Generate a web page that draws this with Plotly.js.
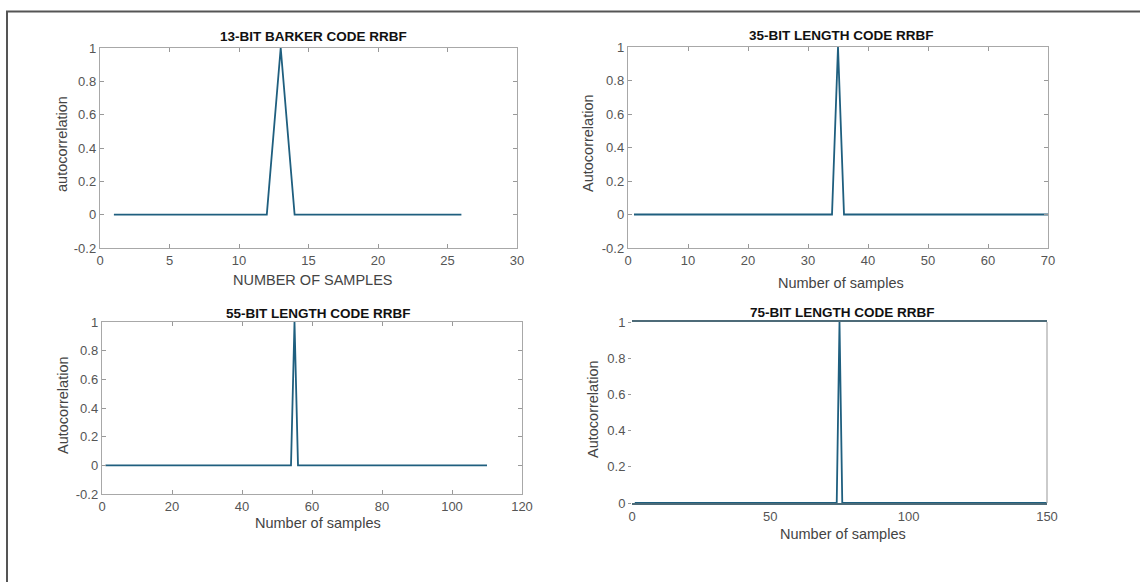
<!DOCTYPE html>
<html>
<head>
<meta charset="utf-8">
<script src="https://cdn.plot.ly/plotly-3.0.1.min.js"></script>
<style>
html,body{margin:0;padding:0;background:#fff;}
#chart{width:1140px;height:582px;}
</style>
</head>
<body>
<div id="chart"></div>
<script>
// ---- data (breakpoints of each autocorrelation trace) ----
const samples13 = [1, 12, 13, 14, 26];
const acf13     = [0, 0, 1, 0, 0];
const samples35 = [1, 34, 35, 36, 70];
const acf35     = [0, 0, 1, 0, 0];
const samples55 = [1, 54, 55, 56, 110];
const acf55     = [0, 0, 1, 0, 0];
const samples75 = [1, 74, 75, 76, 150];
const acf75     = [0, 0, 1, 0, 0];

const titles = ["13-BIT BARKER CODE RRBF", "35-BIT LENGTH CODE RRBF", "55-BIT LENGTH CODE RRBF", "75-BIT LENGTH CODE RRBF"];
const xLabels = ["NUMBER OF SAMPLES", "Number of samples", "Number of samples", "Number of samples"];
const yLabels = ["autocorrelation", "Autocorrelation", "Autocorrelation", "Autocorrelation"];

const xTicks1 = [0, 5, 10, 15, 20, 25, 30];
const xTicks2 = [0, 10, 20, 30, 40, 50, 60, 70];
const xTicks3 = [0, 20, 40, 60, 80, 100, 120];
const xTicks4 = [0, 50, 100, 150];
const yTicksA = [-0.2, 0, 0.2, 0.4, 0.6, 0.8, 1];
const yTickTextA = ["-0.2", "0", "0.2", "0.4", "0.6", "0.8", "1"];
const yTicksB = [0, 0.2, 0.4, 0.6, 0.8, 1];
const yTickTextB = ["0", "0.2", "0.4", "0.6", "0.8", "1"];

// ---- layout helpers ----
const W = 1140, H = 582;
const px = x => x / W;
const py = y => 1 - y / H;
const lineColor = '#1f5f7f';
const FONT = 'Liberation Sans, Arial, sans-serif';

// axes boxes in pixels [left, right, top, bottom]
const boxes = [
  [100, 517, 48, 248],
  [628, 1048, 47, 248],
  [102, 522, 322, 494],
  [632, 1047, 322, 503]
];

function trace(x, y, i) {
  const s = i === 0 ? '' : String(i + 1);
  return {x: x, y: y, type: 'scatter', mode: 'lines', xaxis: 'x' + s, yaxis: 'y' + s,
          line: {color: lineColor, width: 1.8}, hoverinfo: 'skip', showlegend: false};
}

const data = [
  trace(samples13, acf13, 0),
  trace(samples35, acf35, 1),
  trace(samples55, acf55, 2),
  trace(samples75, acf75, 3)
];

function xax(i, ticks, range) {
  const b = boxes[i];
  return {domain: [px(b[0]), px(b[1])], range: range, anchor: 'y' + (i === 0 ? '' : i + 1),
    tickvals: ticks, ticktext: ticks.map(String), ticks: 'inside', ticklen: 4, tickcolor: '#999',
    showline: true, linecolor: '#a8a8a8', linewidth: 1.2, mirror: 'ticks', showgrid: false, zeroline: false,
    tickfont: {family: FONT, size: 13, color: '#555'}, fixedrange: true};
}
function yax(i, ticks, text, range) {
  const b = boxes[i];
  return {domain: [py(b[3]), py(b[2])], range: range, anchor: 'x' + (i === 0 ? '' : i + 1),
    tickvals: ticks, ticktext: text, ticks: 'inside', ticklen: 4, tickcolor: '#999',
    showline: true, linecolor: '#a8a8a8', linewidth: 1.2, mirror: 'ticks', showgrid: false, zeroline: false,
    tickfont: {family: FONT, size: 13, color: '#555'}, fixedrange: true};
}

const layout = {
  width: W, height: H,
  margin: {l: 0, r: 0, t: 0, b: 0},
  paper_bgcolor: '#fff', plot_bgcolor: '#fff',
  showlegend: false,
  xaxis: xax(0, xTicks1, [0, 30]),
  yaxis: yax(0, yTicksA, yTickTextA, [-0.2, 1]),
  xaxis2: xax(1, xTicks2, [0, 70]),
  yaxis2: yax(1, yTicksA, yTickTextA, [-0.2, 1]),
  xaxis3: xax(2, xTicks3, [0, 120]),
  yaxis3: yax(2, yTicksA, yTickTextA, [-0.2, 1]),
  xaxis4: Object.assign(xax(3, xTicks4, [0, 150]), {linecolor: '#4d6b78', linewidth: 2, mirror: true, ticks: ''}),
  yaxis4: Object.assign(yax(3, yTicksB, yTickTextB, [0, 1]), {showline: false, mirror: false, ticks: 'outside', ticklen: 3}),
  shapes: [
    {type: 'rect', xref: 'paper', yref: 'paper', x0: px(7), x1: 1.05, y0: -0.05, y1: py(11.5),
     line: {color: '#555', width: 2}},
    {type: 'line', xref: 'x4 domain', yref: 'y4 domain', x0: 1, x1: 1, y0: 0, y1: 1,
     line: {color: '#a8a8a8', width: 1.2}}
  ],
  annotations: []
};

// titles and axis labels
const titlePos = [[313, 36], [841, 35], [318, 313], [842, 312]];
const xLabPos = [[313, 280], [841, 283], [318, 523], [843, 534]];
const yLabPos = [[62, 144], [588, 143], [63, 405], [593, 409]];
for (let i = 0; i < 4; i++) {
  layout.annotations.push({text: '<b>' + titles[i] + '</b>', xref: 'paper', yref: 'paper',
    x: px(titlePos[i][0]), y: py(titlePos[i][1]), xanchor: 'center', yanchor: 'middle', showarrow: false,
    font: {family: FONT, size: 13.5, color: '#111'}});
  layout.annotations.push({text: xLabels[i], xref: 'paper', yref: 'paper',
    x: px(xLabPos[i][0]), y: py(xLabPos[i][1]), xanchor: 'center', yanchor: 'middle', showarrow: false,
    font: {family: FONT, size: 14.5, color: '#444'}});
  layout.annotations.push({text: yLabels[i], xref: 'paper', yref: 'paper', textangle: -90,
    x: px(yLabPos[i][0]), y: py(yLabPos[i][1]), xanchor: 'center', yanchor: 'middle', showarrow: false,
    font: {family: FONT, size: 14.5, color: '#444'}});
}

Plotly.newPlot('chart', data, layout, {displayModeBar: false, staticPlot: true});
</script>
</body>
</html>
